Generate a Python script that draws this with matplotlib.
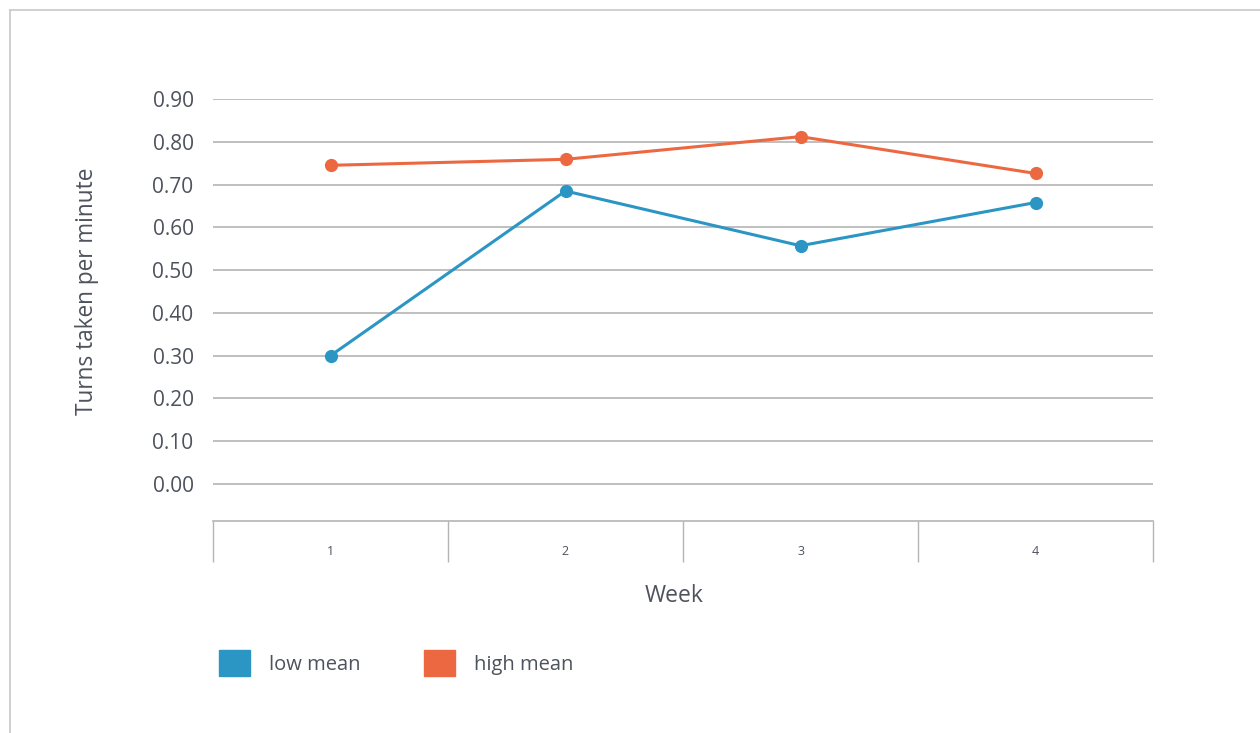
import matplotlib
matplotlib.use('Agg')
import matplotlib.pyplot as plt
from matplotlib.lines import Line2D
from matplotlib.patches import Patch

# Data
weeks = ['1', '2', '3', '4']
low_mean = [0.30, 0.685, 0.557, 0.658]
high_mean = [0.745, 0.759, 0.812, 0.726]
y_ticks = [0.0, 0.1, 0.2, 0.3, 0.4, 0.5, 0.6, 0.7, 0.8, 0.9]

BLUE = '#2b96c4'
ORANGE = '#ec6841'
TEXT = '#4d525c'
GRID = '#b4b4b4'

plt.rcParams['font.family'] = ['Open Sans', 'DejaVu Sans']

W, H = 1260, 733
fig = plt.figure(figsize=(W / 100, H / 100), dpi=100)
ax = fig.add_axes([213 / W, (H - 521) / H, 940 / W, (521 - 99) / H])

x = list(range(1, len(weeks) + 1))
ax.plot(x, low_mean, color=BLUE, lw=2.2, marker='o', ms=8.5, zorder=3)
ax.plot(x, high_mean, color=ORANGE, lw=2.2, marker='o', ms=8.5, zorder=3)

# y axis
ax.set_ylim(-37 / 428, 0.9)
ax.set_yticks(y_ticks)
ax.set_yticklabels([f'{v:.2f}' for v in y_ticks])
ax.tick_params(axis='y', length=0, pad=14, labelsize=15, labelcolor=TEXT)
ax.grid(axis='y', color=GRID, lw=1.2)
ax.set_axisbelow(True)

# category axis with separators
ax.set_xlim(0.5, len(weeks) + 0.5)
ax.set_xticks(x)
ax.set_xticklabels(weeks)
ax.set_xticks([i + 0.5 for i in range(len(weeks) + 1)], minor=True)
ax.tick_params(axis='x', which='major', length=0, pad=17, labelsize=9, labelcolor=TEXT)
ax.tick_params(axis='x', which='minor', length=29.5, width=1.0, color=GRID, direction='out')

for side in ['left', 'right', 'top']:
    ax.spines[side].set_visible(False)
ax.spines['bottom'].set_color(GRID)
ax.spines['bottom'].set_linewidth(1.2)

fig.text(87 / W, 1 - 291 / H, 'Turns taken per minute', rotation=90,
         ha='center', va='center', fontsize=16.3, color=TEXT)
fig.text(674 / W, 1 - 596 / H, 'Week', ha='center', va='center', fontsize=16.5, color=TEXT)

handles = [Patch(color=BLUE, label='low mean'), Patch(color=ORANGE, label='high mean')]
fig.legend(handles=handles, loc='center left', bbox_to_anchor=(219 / W, 1 - 663 / H),
           ncol=2, frameon=False, fontsize=14.5, labelcolor=TEXT, borderpad=0,
           borderaxespad=0, handlelength=1.54, handleheight=1.54, handletextpad=0.95,
           columnspacing=3.15)

# outer frame
fig.add_artist(Line2D([10 / W, 10 / W], [0, 1 - 10 / H], color='#c8c8c8', lw=1.2))
fig.add_artist(Line2D([10 / W, 1], [1 - 10 / H, 1 - 10 / H], color='#c8c8c8', lw=1.2))

fig.savefig('out.png', dpi=100)
